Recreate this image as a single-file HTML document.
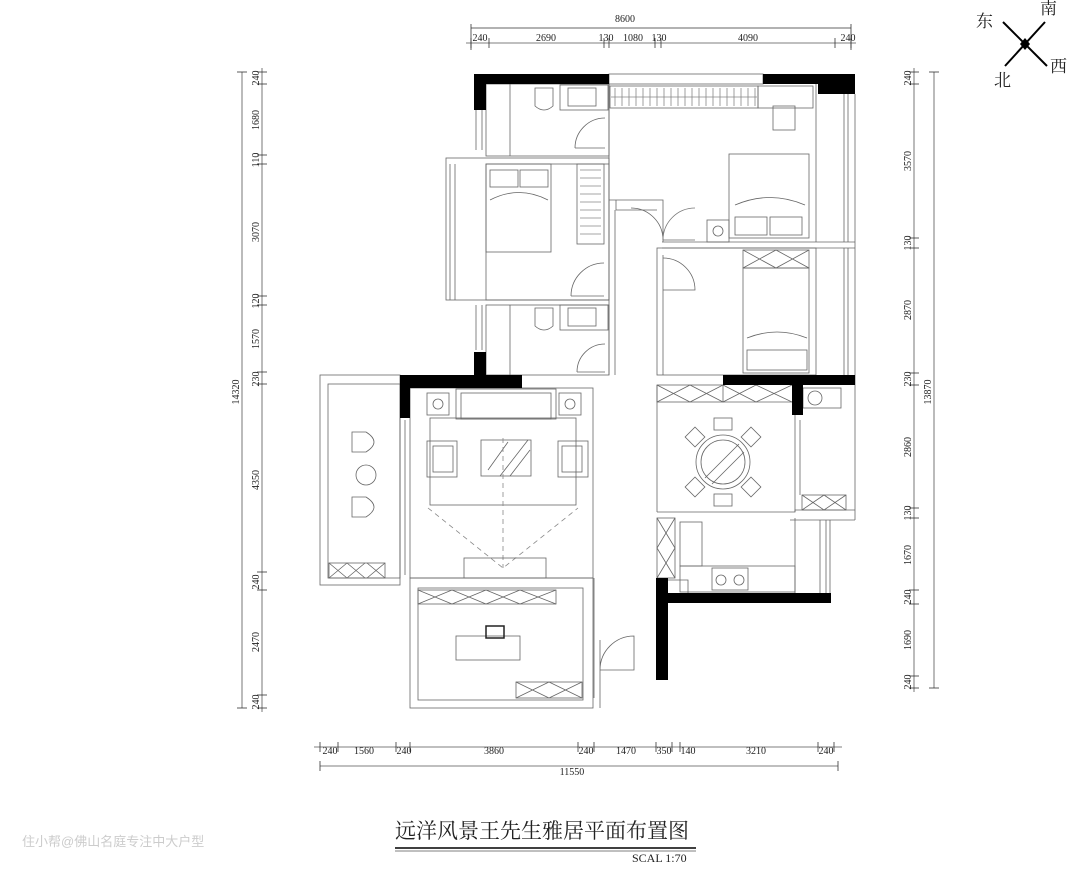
<!DOCTYPE html>
<html><head><meta charset="utf-8"><style>
html,body{margin:0;padding:0;background:#fff;}
svg{display:block;}
text{font-family:"Liberation Serif","Noto Serif CJK SC",serif;fill:#222;}
.d{font-size:10px;font-family:"Liberation Sans",sans-serif;}
</style></head><body>
<svg width="1080" height="870" viewBox="0 0 1080 870" xmlns="http://www.w3.org/2000/svg">
<g stroke="#555" stroke-width="0.8" fill="none">
<line x1="466" y1="43" x2="856" y2="43"/>
<g stroke="#333">
<line x1="471" y1="38" x2="471" y2="48"/><line x1="489" y1="38" x2="489" y2="48"/><line x1="604" y1="38" x2="604" y2="48"/><line x1="609" y1="38" x2="609" y2="48"/><line x1="655" y1="38" x2="655" y2="48"/><line x1="661" y1="38" x2="661" y2="48"/><line x1="835" y1="38" x2="835" y2="48"/><line x1="851" y1="38" x2="851" y2="48"/>
<line x1="471" y1="28" x2="851" y2="28"/><line x1="471" y1="24" x2="471" y2="50"/><line x1="851" y1="24" x2="851" y2="50"/>
</g>
<line x1="262" y1="68" x2="262" y2="712"/><line x1="242" y1="72" x2="242" y2="708"/>
<g stroke="#333">
<line x1="257" y1="72" x2="267" y2="72"/><line x1="257" y1="84" x2="267" y2="84"/><line x1="257" y1="155" x2="267" y2="155"/><line x1="257" y1="164" x2="267" y2="164"/><line x1="257" y1="296" x2="267" y2="296"/><line x1="257" y1="305" x2="267" y2="305"/><line x1="257" y1="372" x2="267" y2="372"/><line x1="257" y1="384" x2="267" y2="384"/><line x1="257" y1="572" x2="267" y2="572"/><line x1="257" y1="590" x2="267" y2="590"/><line x1="257" y1="695" x2="267" y2="695"/><line x1="257" y1="708" x2="267" y2="708"/>
<line x1="237" y1="72" x2="247" y2="72"/><line x1="237" y1="708" x2="247" y2="708"/>
</g>
<line x1="914" y1="68" x2="914" y2="692"/><line x1="934" y1="72" x2="934" y2="688"/>
<g stroke="#333">
<line x1="909" y1="72" x2="919" y2="72"/><line x1="909" y1="84" x2="919" y2="84"/><line x1="909" y1="238" x2="919" y2="238"/><line x1="909" y1="248" x2="919" y2="248"/><line x1="909" y1="373" x2="919" y2="373"/><line x1="909" y1="385" x2="919" y2="385"/><line x1="909" y1="508" x2="919" y2="508"/><line x1="909" y1="518" x2="919" y2="518"/><line x1="909" y1="590" x2="919" y2="590"/><line x1="909" y1="604" x2="919" y2="604"/><line x1="909" y1="676" x2="919" y2="676"/><line x1="909" y1="688" x2="919" y2="688"/>
<line x1="929" y1="72" x2="939" y2="72"/><line x1="929" y1="688" x2="939" y2="688"/>
</g>
<line x1="314" y1="747" x2="842" y2="747"/><line x1="320" y1="766" x2="838" y2="766"/>
<g stroke="#333">
<line x1="320" y1="742" x2="320" y2="752"/><line x1="338" y1="742" x2="338" y2="752"/><line x1="396" y1="742" x2="396" y2="752"/><line x1="410" y1="742" x2="410" y2="752"/><line x1="578" y1="742" x2="578" y2="752"/><line x1="594" y1="742" x2="594" y2="752"/><line x1="656" y1="742" x2="656" y2="752"/><line x1="672" y1="742" x2="672" y2="752"/><line x1="680" y1="742" x2="680" y2="752"/><line x1="818" y1="742" x2="818" y2="752"/><line x1="834" y1="742" x2="834" y2="752"/>
<line x1="320" y1="761" x2="320" y2="771"/><line x1="838" y1="761" x2="838" y2="771"/>
</g>
<g stroke="#666">
<rect x="486" y="84" width="123" height="72"/>
<line x1="510" y1="84" x2="510" y2="156"/>
<rect x="560" y="85" width="48" height="25"/><rect x="568" y="88" width="28" height="18"/>
<path d="M535 88 h18 v18 q-9 8 -18 0z"/>
<path d="M575 148 a30 30 0 0 1 30 -30 M575 148 h30"/>
<rect x="446" y="158" width="163" height="142"/>
<rect x="486" y="164" width="123" height="136"/>
<line x1="450" y1="164" x2="450" y2="300"/><line x1="455" y1="164" x2="455" y2="300"/>
<rect x="486" y="164" width="65" height="88"/>
<rect x="490" y="170" width="28" height="17"/><rect x="520" y="170" width="28" height="17"/>
<path d="M490 200 q29 -15 58 0"/>
<rect x="577" y="164" width="27" height="80"/>
<g stroke="#888"><line x1="580" y1="170" x2="601" y2="170"/><line x1="580" y1="178" x2="601" y2="178"/><line x1="580" y1="186" x2="601" y2="186"/><line x1="580" y1="194" x2="601" y2="194"/><line x1="580" y1="202" x2="601" y2="202"/><line x1="580" y1="210" x2="601" y2="210"/><line x1="580" y1="218" x2="601" y2="218"/><line x1="580" y1="226" x2="601" y2="226"/><line x1="580" y1="234" x2="601" y2="234"/></g>
<path d="M571 296 a33 33 0 0 1 33 -33 M571 296 h33"/>
<rect x="486" y="305" width="123" height="70"/>
<line x1="510" y1="305" x2="510" y2="375"/>
<rect x="560" y="305" width="48" height="25"/><rect x="568" y="308" width="28" height="18"/>
<path d="M535 308 h18 v18 q-9 8 -18 0z"/>
<path d="M577 372 a28 28 0 0 1 28 -28 M577 372 h28"/>
<line x1="476" y1="110" x2="476" y2="150"/><line x1="482" y1="110" x2="482" y2="150"/>
<line x1="476" y1="305" x2="476" y2="350"/><line x1="482" y1="305" x2="482" y2="350"/>
<rect x="609" y="74" width="154" height="10"/>
<rect x="610" y="86" width="148" height="22"/>
<g stroke="#888"><path d="M615 88v18M622 88v18M629 88v18M636 88v18M643 88v18M650 88v18M657 88v18M664 88v18M671 88v18M678 88v18M685 88v18M692 88v18M699 88v18M706 88v18M713 88v18M720 88v18M727 88v18M734 88v18M741 88v18M748 88v18M755 88v18"/><line x1="611" y1="97" x2="757" y2="97"/></g>
<rect x="758" y="86" width="55" height="22"/>
<rect x="773" y="106" width="22" height="24"/>
<line x1="609" y1="84" x2="609" y2="200"/>
<path d="M609 200 h54 v42 M616 200 v10 h41"/>
<line x1="816" y1="84" x2="816" y2="242"/>
<line x1="662" y1="242" x2="855" y2="242"/><line x1="662" y1="248" x2="855" y2="248"/>
<line x1="844" y1="94" x2="844" y2="242"/><line x1="848" y1="94" x2="848" y2="242"/><line x1="855" y1="94" x2="855" y2="520"/>
<rect x="729" y="154" width="80" height="84"/>
<rect x="735" y="217" width="32" height="18"/><rect x="770" y="217" width="32" height="18"/>
<path d="M735 205 q35 -15 70 0"/>
<rect x="707" y="220" width="22" height="22"/><circle cx="718" cy="231" r="5"/>
<path d="M663 240 a32 32 0 0 0 -32 -32"/><line x1="663" y1="240" x2="695" y2="240"/><path d="M663 240 a32 32 0 0 1 32 -32" stroke="#777"/>
<rect x="657" y="248" width="159" height="127"/>
<line x1="663" y1="255" x2="663" y2="375"/>
<rect x="743" y="250" width="66" height="18"/><path d="M743 250 l33 18 l33 -18 M743 268 l33 -18 l33 18"/>
<rect x="743" y="268" width="66" height="105"/>
<rect x="747" y="350" width="60" height="20"/>
<path d="M747 338 q30 -12 60 0"/>
<path d="M663 258 a32 32 0 0 1 32 32 h-32"/>
<line x1="844" y1="248" x2="844" y2="375"/><line x1="848" y1="248" x2="848" y2="375"/>
<line x1="609" y1="375" x2="609" y2="200"/>
<line x1="615" y1="210" x2="615" y2="375"/>
<rect x="410" y="388" width="183" height="190"/>
<line x1="400" y1="418" x2="400" y2="578"/><line x1="405" y1="420" x2="405" y2="575"/>
<rect x="320" y="375" width="80" height="210"/><rect x="328" y="384" width="72" height="194"/>
<rect x="329" y="563" width="56" height="15"/><path d="M329 563 l18 15 M347 563 l-18 15 M347 563 l18 15 M365 563 l-18 15 M367 563 l18 15 M385 563 l-18 15"/>
<path d="M352 432 h14 q16 10 0 20 h-14 z"/><path d="M352 497 h14 q16 10 0 20 h-14 z"/>
<circle cx="366" cy="475" r="10"/>
<rect x="456" y="389" width="100" height="30"/><rect x="461" y="393" width="90" height="26"/>
<rect x="427" y="393" width="22" height="22"/><circle cx="438" cy="404" r="5"/>
<rect x="559" y="393" width="22" height="22"/><circle cx="570" cy="404" r="5"/>
<rect x="430" y="418" width="146" height="87"/>
<rect x="427" y="441" width="30" height="36"/><rect x="433" y="446" width="20" height="26"/>
<rect x="558" y="441" width="30" height="36"/><rect x="562" y="446" width="20" height="26"/>
<rect x="481" y="440" width="50" height="36"/><path d="M488 470 l20 -28 M500 476 l28 -36 M510 476 l20 -26"/>
<path d="M503 438 v130 M428 508 l75 60 l75 -60" stroke-dasharray="5 4" stroke="#888"/>
<rect x="464" y="558" width="82" height="20"/>
<rect x="410" y="578" width="183" height="130"/><rect x="418" y="588" width="165" height="112"/>
<rect x="418" y="590" width="138" height="14"/><path d="M418 590l34 14M452 590l-34 14M452 590l34 14M486 590l-34 14M486 590l34 14M520 590l-34 14M520 590l36 14M556 590l-36 14"/>
<rect x="456" y="636" width="64" height="24"/><rect x="486" y="626" width="18" height="12" stroke="#222" stroke-width="1.5"/>
<rect x="516" y="682" width="66" height="16"/><path d="M516 682l33 16M549 682l-33 16M549 682l33 16M582 682l-33 16"/>
<path d="M600 670 a34 34 0 0 1 34 -34 v34 h-34 M594 578 v120 M600 640 v68"/>
<rect x="657" y="385" width="66" height="17"/><path d="M657 385l33 17M690 385l-33 17M690 385l33 17M723 385l-33 17M723 385l33 17M756 385l-33 17M756 385l36 17M792 385l-36 17"/>
<line x1="723" y1="402" x2="792" y2="402"/>
<line x1="657" y1="385" x2="657" y2="512"/>
<circle cx="723" cy="462" r="27"/><circle cx="723" cy="462" r="22"/>
<path d="M705 478 l34 -34 M712 484 l32 -32"/>
<rect x="714" y="418" width="18" height="12"/><rect x="714" y="494" width="18" height="12"/>
<rect x="688" y="430" width="14" height="14" transform="rotate(45 695 437)"/><rect x="744" y="430" width="14" height="14" transform="rotate(45 751 437)"/>
<rect x="688" y="480" width="14" height="14" transform="rotate(45 695 487)"/><rect x="744" y="480" width="14" height="14" transform="rotate(45 751 487)"/>
<rect x="803" y="388" width="38" height="20"/><circle cx="815" cy="398" r="7"/>
<line x1="795" y1="415" x2="795" y2="512"/><line x1="800" y1="420" x2="800" y2="495"/>
<rect x="802" y="495" width="44" height="15"/><path d="M802 495l22 15M824 495l-22 15M824 495l22 15M846 495l-22 15"/>
<path d="M657 512 h138 v-2 h60"/><line x1="790" y1="520" x2="855" y2="520"/>
<rect x="657" y="518" width="18" height="60"/><path d="M657 518l18 30M675 518l-18 30M657 548l18 30M675 548l-18 30"/>
<rect x="680" y="522" width="22" height="44"/>
<rect x="680" y="566" width="115" height="26"/>
<rect x="712" y="568" width="36" height="22"/><circle cx="721" cy="580" r="5"/><circle cx="739" cy="580" r="5"/>
<line x1="795" y1="518" x2="795" y2="593"/><line x1="820" y1="520" x2="820" y2="593"/><line x1="826" y1="520" x2="826" y2="593"/><line x1="830" y1="520" x2="830" y2="593"/>
<path d="M668 580 h20 v13"/>
</g>
</g>
<g fill="#000">
<rect x="474" y="74" width="135" height="10"/><rect x="474" y="74" width="12" height="36"/>
<rect x="763" y="74" width="92" height="10"/><rect x="818" y="74" width="37" height="20"/>
<rect x="474" y="352" width="12" height="23"/>
<rect x="400" y="375" width="122" height="13"/><rect x="400" y="375" width="10" height="43"/>
<rect x="723" y="375" width="132" height="10"/><rect x="792" y="375" width="11" height="40"/>
<rect x="656" y="578" width="12" height="102"/><rect x="656" y="593" width="175" height="10"/>
</g>
<g class="d" text-anchor="middle">
<text x="625" y="22">8600</text>
<text x="480" y="41">240</text><text x="546" y="41">2690</text><text x="606" y="41">130</text><text x="633" y="41">1080</text><text x="659" y="41">130</text><text x="748" y="41">4090</text><text x="848" y="41">240</text>
<text x="330" y="754">240</text><text x="364" y="754">1560</text><text x="404" y="754">240</text><text x="494" y="754">3860</text><text x="586" y="754">240</text><text x="626" y="754">1470</text><text x="664" y="754">350</text><text x="688" y="754">140</text><text x="756" y="754">3210</text><text x="826" y="754">240</text>
<text x="572" y="775">11550</text>
</g>
<g class="d" text-anchor="middle">
<text transform="translate(259 78) rotate(-90)">240</text>
<text transform="translate(259 120) rotate(-90)">1680</text>
<text transform="translate(259 160) rotate(-90)">110</text>
<text transform="translate(259 232) rotate(-90)">3070</text>
<text transform="translate(259 301) rotate(-90)">120</text>
<text transform="translate(259 339) rotate(-90)">1570</text>
<text transform="translate(259 379) rotate(-90)">230</text>
<text transform="translate(259 480) rotate(-90)">4350</text>
<text transform="translate(259 582) rotate(-90)">240</text>
<text transform="translate(259 642) rotate(-90)">2470</text>
<text transform="translate(259 702) rotate(-90)">240</text>
<text transform="translate(239 392) rotate(-90)">14320</text>
<text transform="translate(911 78) rotate(-90)">240</text>
<text transform="translate(911 161) rotate(-90)">3570</text>
<text transform="translate(911 243) rotate(-90)">130</text>
<text transform="translate(911 310) rotate(-90)">2870</text>
<text transform="translate(911 379) rotate(-90)">230</text>
<text transform="translate(911 447) rotate(-90)">2860</text>
<text transform="translate(911 513) rotate(-90)">130</text>
<text transform="translate(911 555) rotate(-90)">1670</text>
<text transform="translate(911 597) rotate(-90)">240</text>
<text transform="translate(911 640) rotate(-90)">1690</text>
<text transform="translate(911 682) rotate(-90)">240</text>
<text transform="translate(931 392) rotate(-90)">13870</text>
</g>
<g stroke="#000" fill="#000">
<path d="M1003 22 L1047 66" stroke-width="2"/><path d="M1045 22 L1005 66" stroke-width="2"/>
<polygon points="1025,38 1030,44 1025,50 1020,44" stroke="none"/>
</g>
<text x="976" y="27" font-size="17">东</text>
<text x="1040" y="14" font-size="17">南</text>
<text x="994" y="86" font-size="17">北</text>
<text x="1050" y="72" font-size="17">西</text>
<text x="395" y="838" font-size="21">远洋风景王先生雅居平面布置图</text>
<line x1="395" y1="848" x2="696" y2="848" stroke="#000" stroke-width="1.5"/>
<line x1="395" y1="851" x2="696" y2="851" stroke="#000" stroke-width="0.5"/>
<text x="632" y="862" font-size="12">SCAL 1:70</text>
<text x="22" y="846" font-size="13" style="fill:#ccc;font-family:'Liberation Sans','Noto Sans CJK SC',sans-serif">住小帮@佛山名庭专注中大户型</text>
</svg>
</body></html>
